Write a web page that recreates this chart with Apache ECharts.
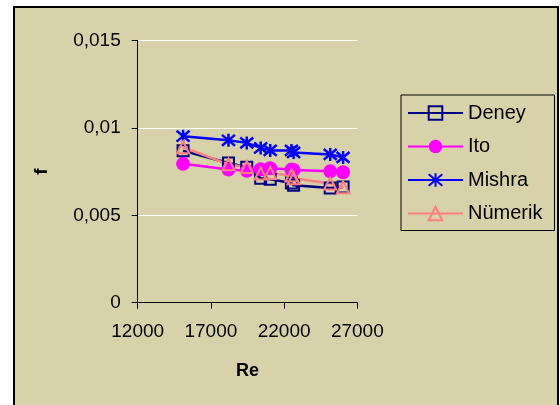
<!DOCTYPE html>
<html>
<head>
<meta charset="utf-8">
<script src="https://cdn.jsdelivr.net/npm/echarts@6/dist/echarts.min.js"></script>
<style>
html,body{margin:0;padding:0;background:#ffffff;width:560px;height:405px;overflow:hidden;}
#frame{position:absolute;left:13px;top:6px;width:542px;height:420px;border:2px solid #000;background:#D8D2AA;}
#chart{position:absolute;left:0;top:0;width:560px;height:405px;}
</style>
</head>
<body>
<div id="frame"></div>
<div id="chart"></div>
<script>
const re = [15100, 18200, 19450, 20400, 21050, 22500, 22650, 25150, 26030];
const deney = [0.0087, 0.0080, 0.00775, 0.00712, 0.00707, 0.00685, 0.00672, 0.00656, 0.00663];
const ito = [0.00795, 0.00762, 0.00755, 0.00764, 0.0077, 0.00762, 0.0076, 0.00752, 0.00747];
const mishra = [0.00953, 0.0093, 0.00915, 0.00886, 0.00872, 0.00872, 0.0086, 0.00849, 0.00832];
const numerik = [0.0089, 0.00792, 0.00777, 0.00739, 0.00743, 0.00728, 0.00712, 0.00683, 0.00661];
const seriesNames = ['Deney', 'Ito', 'Mishra', 'Nümerik'];
const xTicks = [12000, 17000, 22000, 27000];
const yTicks = [0, 0.005, 0.01, 0.015];

const FONT = '"Liberation Sans", Arial, sans-serif';
function pairs(ys){ return re.map((x,i)=>[x, ys[i]]); }
const starPath = 'path://M0,0L10,10M10,0L0,10M5,-1L5,11';

const chart = echarts.init(document.getElementById('chart'), null, {renderer:'canvas'});
chart.setOption({
  backgroundColor: 'transparent',
  animation: false,
  grid: {left: 137.7, right: 202.7, top: 40.7, bottom: 102.3, containLabel: false},
  xAxis: {
    type: 'value', min: xTicks[0], max: xTicks[xTicks.length-1], interval: 5000,
    name: 'Re', nameLocation: 'middle', nameGap: 59,
    nameTextStyle: {fontFamily: FONT, fontSize: 18, fontWeight: 'bold', color: '#000'},
    axisLine: {show: true, onZero: false, lineStyle: {color: '#000', width: 1}},
    axisTick: {show: true, inside: false, length: 6, lineStyle: {color: '#000'}},
    axisLabel: {fontFamily: FONT, fontSize: 19, color: '#000', margin: 20,
      formatter: v => String(v)},
    splitLine: {show: false}
  },
  yAxis: {
    type: 'value', min: yTicks[0], max: yTicks[yTicks.length-1], interval: 0.005,
    name: 'f', nameLocation: 'middle', nameGap: 86,
    nameTextStyle: {fontFamily: FONT, fontSize: 19, fontWeight: 'bold', color: '#000'},
    axisLine: {show: true, onZero: false, lineStyle: {color: '#000', width: 1}},
    axisTick: {show: true, inside: false, length: 6, lineStyle: {color: '#000'}},
    axisLabel: {fontFamily: FONT, fontSize: 19, color: '#000', margin: 17,
      formatter: v => String(v).replace('.', ',')},
    splitLine: {show: true, lineStyle: {color: '#ffffff', width: 1}}
  },
  legend: {
    orient: 'vertical', left: 401, top: 95,
    padding: [8, 12, 7, 6],
    itemWidth: 55, itemHeight: 17, itemGap: 13.5,
    backgroundColor: 'transparent', borderColor: '#000', borderWidth: 1, borderRadius: 0,
    textStyle: {fontFamily: FONT, fontSize: 20, color: '#000'},
    data: seriesNames
  },
  series: [
    {name: seriesNames[0], type: 'line', data: pairs(deney), symbol: 'rect', symbolSize: 11,
     lineStyle: {color: '#000080', width: 2.5},
     itemStyle: {color: 'rgba(0,0,0,0)', borderColor: '#000080', borderWidth: 2}},
    {name: seriesNames[1], type: 'line', data: pairs(ito), symbol: 'circle', symbolSize: 14,
     lineStyle: {color: '#FF00FF', width: 2.5},
     itemStyle: {color: '#FF00FF', borderColor: '#FF00FF', borderWidth: 0}},
    {name: seriesNames[2], type: 'line', data: pairs(mishra), symbol: starPath, symbolSize: 13,
     lineStyle: {color: '#0000FF', width: 2.5},
     itemStyle: {color: 'rgba(0,0,0,0)', borderColor: '#0000FF', borderWidth: 2.5}},
    {name: seriesNames[3], type: 'line', data: pairs(numerik), symbol: 'triangle', symbolSize: 12,
     lineStyle: {color: '#FF8080', width: 2.5},
     itemStyle: {color: 'rgba(0,0,0,0)', borderColor: '#FF8080', borderWidth: 2}}
  ]
});
</script>
</body>
</html>
